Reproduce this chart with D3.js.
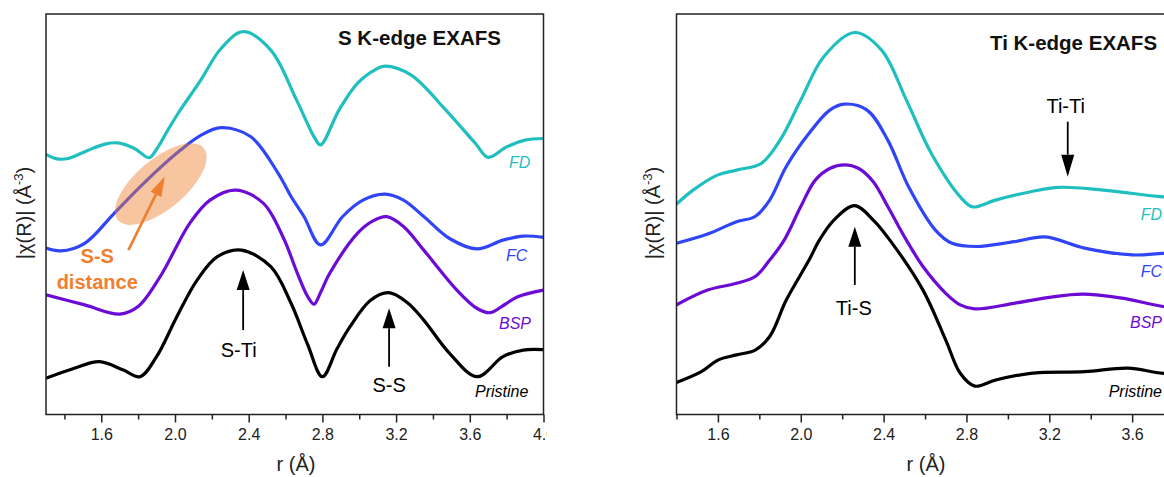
<!doctype html>
<html>
<head>
<meta charset="utf-8">
<style>
  body { margin: 0; background: #fff; }
  svg text { font-family: "Liberation Sans", Arial, sans-serif; }
</style>
<script src="https://d3js.org/d3.v7.min.js"></script>
</head>
<body>
<svg id="chart" width="1164" height="477"></svg>
<script>
// [r (Å), |chi(R)| stacked, arbitrary units]
// S K-edge
var sFD = [[1.30,65.0],[1.36,63.9],[1.42,64.0],[1.52,65.9],[1.62,67.6],[1.69,67.9],[1.78,66.5],[1.86,64.2],[1.90,66.3],[1.96,71.0],[2.02,75.5],[2.14,83.6],[2.25,91.5],[2.37,95.7],[2.52,91.1],[2.66,78.6],[2.76,69.0],[2.79,67.4],[2.89,76.1],[2.99,82.8],[3.09,86.3],[3.14,87.1],[3.28,84.9],[3.47,76.1],[3.63,67.8],[3.70,64.3],[3.80,66.9],[3.90,68.6],[4.00,69.0]];
var sFC = [[1.30,41.6],[1.38,40.9],[1.51,42.8],[1.67,50.3],[1.83,57.8],[2.03,66.1],[2.14,69.8],[2.25,71.7],[2.41,69.5],[2.56,60.3],[2.63,54.5],[2.70,49.5],[2.79,42.4],[2.91,49.5],[3.02,53.6],[3.14,55.1],[3.24,53.6],[3.35,49.5],[3.49,44.0],[3.64,41.4],[3.78,43.6],[3.89,44.6],[4.00,44.3]];
var sBSP = [[1.30,29.9],[1.51,27.4],[1.70,25.1],[1.80,27.0],[1.92,34.5],[2.08,47.8],[2.19,53.6],[2.33,56.1],[2.48,52.8],[2.59,44.0],[2.66,35.8],[2.72,29.5],[2.755,27.6],[2.79,30.5],[2.84,35.3],[2.99,45.3],[3.07,48.3],[3.15,49.45],[3.24,47.0],[3.35,41.1],[3.53,31.1],[3.64,26.5],[3.71,25.45],[3.79,27.5],[3.86,29.45],[4.00,31.1]];
var sPristine = [[1.30,9.05],[1.45,11.5],[1.59,13.2],[1.72,11.1],[1.81,9.45],[1.90,14.45],[2.01,24.45],[2.12,33.6],[2.23,39.45],[2.36,41.1],[2.52,36.95],[2.63,27.8],[2.72,17.5],[2.80,9.45],[2.88,16.5],[2.95,21.95],[3.06,28.5],[3.16,30.45],[3.26,28.0],[3.35,23.6],[3.49,15.3],[3.64,9.45],[3.78,14.45],[3.89,16.1],[4.00,16.2]];

// Ti K-edge
var tFD = [[1.40,52.6],[1.48,56.1],[1.60,59.9],[1.69,61.1],[1.81,62.8],[1.90,68.6],[2.00,78.6],[2.11,89.4],[2.26,95.5],[2.39,91.1],[2.51,78.6],[2.63,65.3],[2.77,54.4],[2.83,51.9],[2.94,53.6],[3.11,55.7],[3.25,56.8],[3.46,56.1],[3.75,54.4],[4.00,53.5]];
var tFC = [[1.40,42.8],[1.55,45.1],[1.69,48.2],[1.78,49.5],[1.85,53.6],[1.93,62.0],[2.04,70.3],[2.14,76.1],[2.21,77.6],[2.32,76.1],[2.42,68.6],[2.52,57.0],[2.65,46.1],[2.73,42.8],[2.85,42.0],[3.03,43.2],[3.18,44.4],[3.37,41.6],[3.60,39.9],[3.75,40.3],[4.00,41.0]];
var tBSP = [[1.40,27.4],[1.55,31.1],[1.69,32.8],[1.78,34.5],[1.85,38.6],[1.92,43.6],[2.00,52.0],[2.07,58.6],[2.14,61.5],[2.21,62.4],[2.28,61.5],[2.35,58.2],[2.42,52.0],[2.51,43.6],[2.59,37.0],[2.70,30.3],[2.77,27.4],[2.84,26.4],[3.03,27.8],[3.20,29.3],[3.36,30.1],[3.55,29.1],[3.75,27.0],[4.00,26.0]];
var tPristine = [[1.40,8.0],[1.52,10.7],[1.60,13.6],[1.69,14.9],[1.78,16.1],[1.85,19.5],[1.93,28.6],[2.04,38.6],[2.09,43.6],[2.16,48.6],[2.26,52.2],[2.35,48.6],[2.43,43.6],[2.59,31.1],[2.70,18.6],[2.77,10.3],[2.84,7.1],[2.94,8.6],[3.11,10.3],[3.37,10.7],[3.58,11.6],[3.75,10.3],[4.00,10.0]];

var sampleNames = ["FD", "FC", "BSP", "Pristine"];
var majorTicks = [1.6, 2.0, 2.4, 2.8, 3.2, 3.6, 4.0];
var minorTicks = [1.4, 1.8, 2.2, 2.6, 3.0, 3.4, 3.8];

var colors = ["#1fbfbf", "#2f45f7", "#6c0ad6", "#000000"];
var orange = "#ef7f2f";

var svg = d3.select("#chart");
var yTop = 14, yBot = 414.5;

var panels = [
  { id: "s", series: [sFD, sFC, sBSP, sPristine], domain: [1.3, 4.0], left: 46, right: 543.5, clipRight: 547,
    title: "S K-edge EXAFS", titleX: 338, titleY: 45,
    labelX: [509, 506, 499, 475], labelY: [168, 261, 329, 397], anchor: "start", ylabX: 31, xlabX: 296 },
  { id: "t", series: [tFD, tFC, tBSP, tPristine], domain: [1.4, 4.0], left: 676.5, right: 1215, clipRight: 1164,
    title: "Ti K-edge EXAFS", titleX: 990, titleY: 49.5,
    labelX: [1162, 1162, 1162, 1162], labelY: [220, 277, 328, 397], anchor: "end", ylabX: 660, xlabX: 926 }
];

var defs = svg.append("defs");

function arrow(g, x1, y1, x2, y2, color, w, hl, hw) {
  var a = Math.atan2(y2 - y1, x2 - x1);
  var bx = x2 - hl * Math.cos(a), by = y2 - hl * Math.sin(a);
  g.append("line").attr("x1", x1).attr("y1", y1).attr("x2", bx).attr("y2", by)
    .attr("stroke", color).attr("stroke-width", w);
  var px = -Math.sin(a) * hw / 2, py = Math.cos(a) * hw / 2;
  g.append("polygon")
    .attr("points", [[x2, y2], [bx + px, by + py], [bx - px, by - py]].map(function(p) { return p.join(","); }).join(" "))
    .attr("fill", color);
}

function drawPanel(p) {
  var x = d3.scaleLinear().domain(p.domain).range([p.left, p.right]);
  var y = d3.scaleLinear().domain([0, 100]).range([yBot, 14.5]);

  defs.append("clipPath").attr("id", "clip-" + p.id)
    .append("rect").attr("x", p.left).attr("y", yTop).attr("width", p.right - p.left).attr("height", yBot - yTop);
  defs.append("clipPath").attr("id", "outer-" + p.id)
    .append("rect").attr("x", p.left - 80).attr("y", 0).attr("width", p.clipRight - p.left + 80).attr("height", 477);

  var g = svg.append("g").attr("clip-path", "url(#outer-" + p.id + ")");

  var line = d3.line()
    .x(function(d) { return x(d[0]); })
    .y(function(d) { return y(d[1]); })
    .curve(d3.curveCatmullRom.alpha(0.5));

  g.append("g").attr("clip-path", "url(#clip-" + p.id + ")")
    .selectAll("path.curve")
    .data(p.series)
    .enter().append("path")
    .attr("class", "curve")
    .attr("d", line)
    .attr("fill", "none")
    .attr("stroke", function(d, i) { return colors[i]; })
    .attr("stroke-width", 3.2)
    .attr("stroke-linejoin", "round");

  // only ticks that fall inside the visible picture
  var visible = function(v) { return x(v) <= p.clipRight + 4; };

  var ax = g.append("g").attr("transform", "translate(0," + yBot + ")")
    .call(d3.axisBottom(x).tickValues(majorTicks.filter(visible)).tickSize(8).tickPadding(6).tickFormat(d3.format(".1f")));
  ax.select(".domain").remove();
  ax.selectAll("line").attr("stroke", "#222").attr("stroke-width", 1.5);
  ax.selectAll("text").attr("font-size", 16).attr("fill", "#222")
    .attr("font-family", "Liberation Sans, Arial, sans-serif");
  var axm = g.append("g").attr("transform", "translate(0," + yBot + ")")
    .call(d3.axisBottom(x).tickValues(minorTicks.filter(visible)).tickSize(5).tickFormat(""));
  axm.select(".domain").remove();
  axm.selectAll("line").attr("stroke", "#222").attr("stroke-width", 1.5);

  g.append("rect")
    .attr("x", p.left).attr("y", yTop)
    .attr("width", p.right - p.left).attr("height", yBot - yTop)
    .attr("fill", "none").attr("stroke", "#222").attr("stroke-width", 1.5);

  g.append("text")
    .attr("x", p.titleX).attr("y", p.titleY)
    .attr("font-size", 20.5).attr("font-weight", "bold").attr("fill", "#111")
    .text(p.title);

  g.selectAll("text.sample")
    .data(sampleNames)
    .enter().append("text")
    .attr("class", "sample")
    .attr("x", function(d, i) { return p.labelX[i]; })
    .attr("y", function(d, i) { return p.labelY[i]; })
    .attr("text-anchor", p.anchor)
    .attr("font-size", 16).attr("font-style", "italic")
    .attr("fill", function(d, i) { return colors[i]; })
    .text(function(d) { return d; });

  g.append("text")
    .attr("x", p.xlabX).attr("y", 471)
    .attr("text-anchor", "middle").attr("font-size", 20).attr("fill", "#222")
    .text("r (Å)");

  var yl = g.append("text")
    .attr("transform", "translate(" + p.ylabX + ",213) rotate(-90)")
    .attr("text-anchor", "middle").attr("font-size", 20).attr("fill", "#222");
  yl.append("tspan").text("|χ(R)|  (Å");
  yl.append("tspan").attr("dy", -8).attr("font-size", 13).text("-3");
  yl.append("tspan").attr("dy", 8).text(")");

  return { g: g, x: x, y: y };
}

// S K-edge panel
var s = drawPanel(panels[0]);
arrow(s.g, s.x(2.37), s.y(21.1), s.x(2.37), s.y(36.1), "#000", 1.8, 20, 13);
s.g.append("text").attr("x", s.x(2.346)).attr("y", s.y(14.4))
  .attr("text-anchor", "middle").attr("font-size", 20).text("S-Ti");
arrow(s.g, s.x(3.162), s.y(11.95), s.x(3.162), s.y(26.55), "#000", 1.8, 20, 13);
s.g.append("text").attr("x", s.x(3.162)).attr("y", s.y(5.6))
  .attr("text-anchor", "middle").attr("font-size", 20).text("S-S");

s.g.append("ellipse")
  .attr("transform", "translate(" + s.x(1.923) + "," + s.y(57.6) + ") rotate(-40)")
  .attr("rx", 56).attr("ry", 25)
  .attr("fill", orange).attr("fill-opacity", 0.45);
arrow(s.g, s.x(1.747), s.y(41.1), s.x(1.945), s.y(59.5), orange, 2.6, 20, 12);
s.g.append("text").attr("x", s.x(1.578)).attr("y", s.y(37.9))
  .attr("text-anchor", "middle").attr("font-size", 20).attr("font-weight", "bold").attr("fill", orange).text("S-S");
s.g.append("text").attr("x", s.x(1.578)).attr("y", s.y(31.3))
  .attr("text-anchor", "middle").attr("font-size", 20).attr("font-weight", "bold").attr("fill", orange).text("distance");

// Ti K-edge panel
var t = drawPanel(panels[1]);
arrow(t.g, t.x(2.261), t.y(32.4), t.x(2.261), t.y(46.95), "#000", 1.8, 20, 13);
t.g.append("text").attr("x", t.x(2.256)).attr("y", t.y(24.9))
  .attr("text-anchor", "middle").attr("font-size", 20).text("Ti-S");
arrow(t.g, t.x(3.289), t.y(73.2), t.x(3.289), t.y(59.45), "#000", 1.8, 22, 13);
t.g.append("text").attr("x", t.x(3.279)).attr("y", t.y(75.4))
  .attr("text-anchor", "middle").attr("font-size", 20).text("Ti-Ti");
</script>
</body>
</html>
